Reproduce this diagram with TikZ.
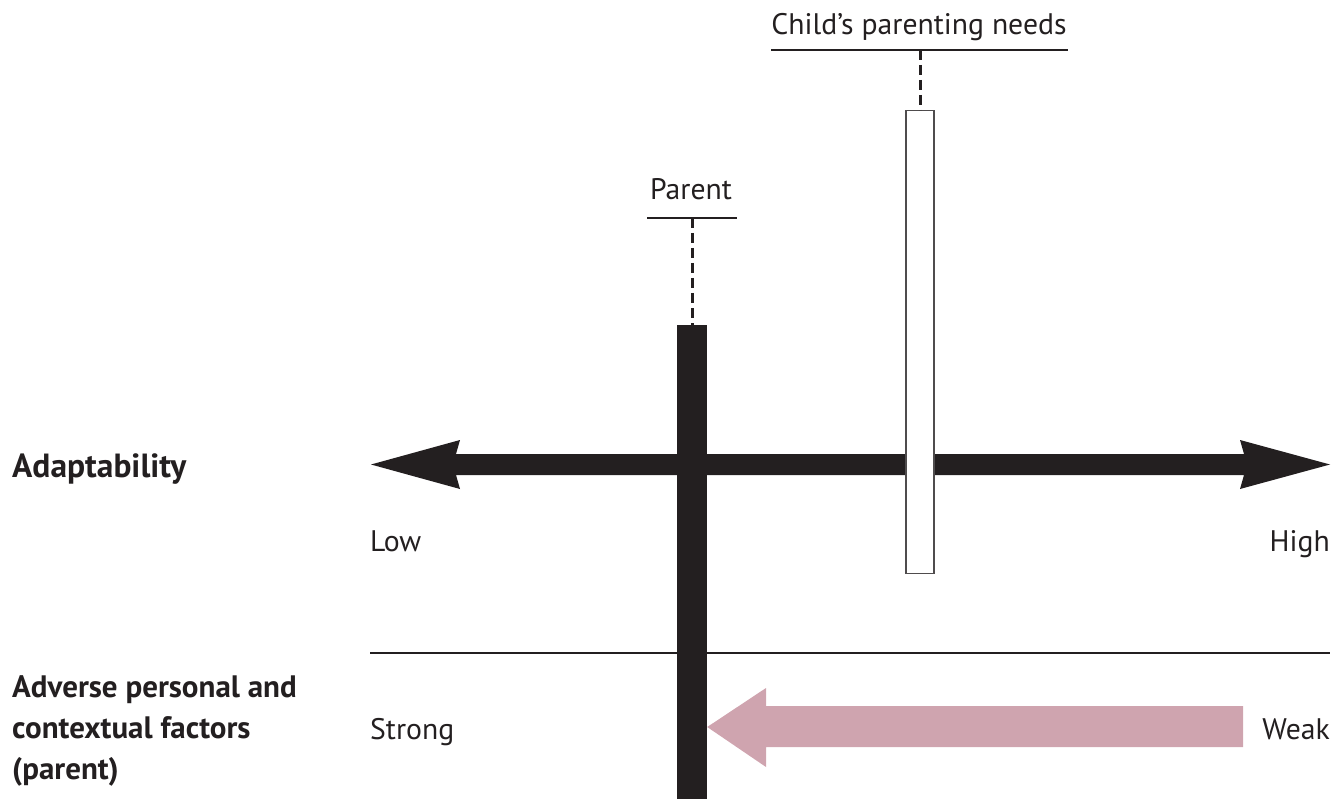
\documentclass[tikz,border=0pt]{standalone}
\usepackage{fontspec}
\setmainfont{PT Sans}
\definecolor{ink}{HTML}{231F20}
\definecolor{rose}{HTML}{CFA4AF}
\begin{document}
\begin{tikzpicture}[x=1pt,y=-1pt,
  lbl/.style={inner sep=0pt,text=ink,font=\fontsize{29.7}{34}\selectfont},
  head/.style={inner sep=0pt,text=ink,font=\fontsize{31}{36}\selectfont\bfseries},
  rule/.style={draw=ink,line width=1.5pt},
  lead/.style={draw=ink,line width=3pt,dash pattern=on 10pt off 5pt}]
\useasboundingbox (0,0) rectangle (1337,799);

% labels above the bars
\node[lbl,anchor=base] (child) at (919,35) {Child’s parenting needs};
\node[lbl,anchor=base] (parent) at (691,200) {Parent};
\coordinate (cl) at (771,50); \coordinate (cr) at (1068,50);
\coordinate (pl) at (647,218); \coordinate (pr) at (737,218);
\draw[rule] (cl) -- (cr);
\draw[rule] (pl) -- (pr);

% adaptability axis (double-headed arrow)
\fill[ink] (371,464.5) -- (460,440) -- (456,454) -- (1244,454) -- (1240,440)
  -- (1330,464.5) -- (1240,489) -- (1244,475) -- (456,475) -- (460,489) -- cycle;

% child's needs bar (open) and parent bar (solid)
\node[draw=ink!80,line width=1.3pt,fill=white,minimum width=28pt,minimum height=463pt,
  inner sep=0pt,anchor=north] (need) at (920,110) {};
\node[fill=ink,minimum width=30pt,minimum height=474pt,inner sep=0pt,anchor=north]
  (par) at (692,325) {};
\draw[lead] (need.north |- cl) -- (need.north);
\draw[lead] (par.north |- pl) -- (par.north);

% dividing rule
\coordinate (dl) at (370,653); \coordinate (dr) at (1330,653);
\draw[draw=ink,line width=1.3pt] (dl) -- (dr);

% adverse factors arrow, pointing at the parent bar
\fill[rose] (par.east |- 0,727) -- (766,688) -- (766,706) -- (1243,706) -- (1243,747)
  -- (766,747) -- (766,767) -- cycle;

% axis labels
\node[head,anchor=base west,font=\fontsize{33.5}{38}\selectfont\bfseries] (adapt) at (12,477) {Adaptability};
\node[lbl,anchor=base west] (low) at (370,551) {Low};
\node[lbl,anchor=base east] (high) at (1330,551) {High};
\node[head,anchor=base west] (adv1) at (12,697) {Adverse personal and};
\node[head,anchor=base west] (adv2) at (12,738) {contextual factors};
\node[head,anchor=base west] (adv3) at (12,779) {(parent)};
\node[lbl,anchor=base west] (strong) at (370,739) {Strong};
\node[lbl,anchor=base east] (weak) at (1330,739) {Weak};
\end{tikzpicture}
\end{document}
